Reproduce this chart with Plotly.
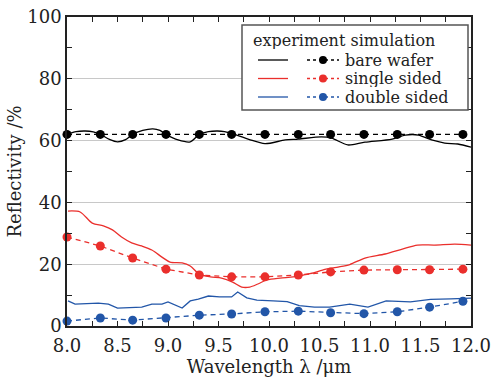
import plotly.graph_objects as go

# ---------------- data ----------------
# experiment (solid lines)
bare_exp_x = [8.01, 8.09, 8.18, 8.26, 8.33, 8.42, 8.50, 8.58, 8.65, 8.75, 8.85, 8.92, 8.98, 9.10, 9.22, 9.31,
              9.40, 9.49, 9.56, 9.63, 9.80, 9.96, 10.16, 10.29, 10.52, 10.62, 10.78, 10.95, 11.22, 11.35,
              11.48, 11.61, 11.74, 11.87, 12.0]
bare_exp_y = [62.1, 62.9, 63.1, 62.8, 62.0, 60.4, 59.6, 60.3, 62.0, 63.3, 63.8, 63.3, 62.0, 60.2, 59.6, 62.0,
              62.9, 63.1, 62.9, 62.3, 60.4, 59.0, 60.2, 60.5, 61.2, 60.8, 58.6, 59.5, 60.5, 61.8,
              61.8, 60.2, 59.2, 58.9, 57.9]

single_exp_x = [8.01, 8.13, 8.25, 8.36, 8.45, 8.54, 8.64, 8.74, 8.84, 8.94, 9.02, 9.14, 9.22, 9.31, 9.42,
                9.53, 9.64, 9.73, 9.81, 9.89, 9.98, 10.11, 10.24, 10.34, 10.44, 10.53, 10.67, 10.80,
                10.95, 11.15, 11.32, 11.47, 11.64, 11.84, 12.0]
single_exp_y = [37.2, 36.9, 33.3, 32.4, 31.1, 28.8, 26.9, 25.9, 24.6, 22.3, 20.7, 20.4, 19.4, 16.8, 15.9,
                15.5, 14.2, 12.6, 12.6, 13.6, 14.9, 15.5, 15.9, 16.5, 17.2, 18.1, 19.0, 19.9,
                22.0, 23.3, 24.9, 26.2, 26.2, 26.5, 26.2]

double_exp_x = [8.01, 8.08, 8.31, 8.41, 8.50, 8.64, 8.74, 8.84, 8.94, 9.00, 9.14, 9.22, 9.30, 9.40, 9.51,
                9.63, 9.69, 9.78, 9.88, 10.04, 10.18, 10.30, 10.45, 10.60, 10.80, 10.98, 11.16, 11.40,
                11.60, 11.80, 12.0]
double_exp_y = [8.1, 7.1, 7.4, 7.1, 5.8, 6.1, 6.1, 7.1, 7.1, 7.8, 5.8, 8.1, 8.7, 9.7, 9.4,
                9.4, 11.0, 9.1, 8.4, 8.1, 7.9, 6.6, 6.1, 6.1, 7.1, 6.1, 8.1, 7.8,
                8.6, 8.8, 9.0]

# simulation (dashed lines with markers)
sim_x = [8.0, 8.33, 8.65, 8.98, 9.31, 9.63, 9.96, 10.29, 10.61, 10.94, 11.27, 11.59, 11.92]
bare_sim_y = [62.0] * 13
single_sim_y = [28.8, 25.9, 22.0, 18.4, 16.5, 15.9, 15.9, 16.5, 17.5, 18.1, 18.2, 18.2, 18.4]
double_sim_y = [1.6, 2.6, 1.9, 2.6, 3.5, 3.9, 4.6, 4.8, 4.3, 4.0, 4.6, 6.1, 8.0]

series_names = ["bare wafer", "single sided", "double sided"]
legend_header = "experiment simulation"
x_title = "Wavelength λ /μm"
y_title = "Reflectivity /%"

# ---------------- style ----------------
BLACK = "#000000"
RED = "#ea2f2c"
BLUE = "#2256a8"
FONT = "DejaVu Serif"
TXT = "#222222"
W, H = 504, 380
L, R, T, B = 67, 33, 17, 54

fig = go.Figure()

exp_sets = [(bare_exp_x, bare_exp_y, BLACK, "spline"),
            (single_exp_x, single_exp_y, RED, "spline"),
            (double_exp_x, double_exp_y, BLUE, "linear")]
for (xs, ys, c, shp), name in zip(exp_sets, series_names):
    fig.add_trace(go.Scatter(x=xs, y=ys, mode="lines", name=name + " (experiment)",
                             line=dict(color=c, width=1.3, shape=shp, smoothing=0.8),
                             showlegend=False, cliponaxis=True))

sim_sets = [(bare_sim_y, BLACK), (single_sim_y, RED), (double_sim_y, BLUE)]
for (ys, c), name in zip(sim_sets, series_names):
    fig.add_trace(go.Scatter(x=sim_x, y=ys, mode="lines+markers", name=name + " (simulation)",
                             line=dict(color=c, width=1.3, dash="5px,4px"),
                             marker=dict(color=c, size=9, symbol="circle"),
                             showlegend=False, cliponaxis=False))

axis_common = dict(
    showline=True, linecolor=TXT, linewidth=1.5, mirror="allticks",
    ticks="inside", ticklen=5, tickwidth=1, tickcolor=TXT,
    tickfont=dict(family=FONT, size=18, color=TXT),
    zeroline=False, automargin=False,
)

fig.update_xaxes(range=[8.0, 12.0], dtick=0.5, tick0=8.0, tickformat=".1f",
                 showgrid=False, ticklabelstandoff=3,
                 minor=dict(dtick=0.25, ticks="inside", ticklen=5, tickcolor=TXT, showgrid=False),
                 title=dict(text=x_title, font=dict(family=FONT, size=18, color=TXT), standoff=2),
                 **axis_common)
fig.update_yaxes(range=[0, 100], dtick=20, tick0=0,
                 showgrid=True, gridcolor="#c8c8c8", gridwidth=1,
                 minor=dict(dtick=10, ticks="inside", ticklen=5, tickcolor=TXT, showgrid=False),
                 title=dict(text=y_title, font=dict(family=FONT, size=18, color=TXT), standoff=1),
                 **axis_common)

# ---------------- hand-drawn legend (paper coordinates) ----------------
pw, ph = W - L - R, H - T - B


def px(xp):
    return (xp - L) / pw


def py(yp):
    return 1 - (yp - T) / ph


LEG_FS = 16
shapes = [dict(type="rect", xref="paper", yref="paper",
               x0=px(242), x1=px(468), y0=py(110), y1=py(25),
               line=dict(color="#555555", width=1.5), fillcolor="white", layer="above")]
annotations = [dict(text=legend_header, xref="paper", yref="paper", x=px(252), y=py(40),
                    xanchor="left", yanchor="middle", showarrow=False, borderpad=0, height=17,
                    font=dict(family=FONT, size=LEG_FS, color=TXT))]
row_y = [60, 78.5, 97]
for (c, name, ry) in zip([BLACK, RED, BLUE], series_names, row_y):
    shapes.append(dict(type="line", xref="paper", yref="paper", x0=px(258), x1=px(288),
                       y0=py(ry), y1=py(ry), line=dict(color=c, width=1.3), layer="above"))
    shapes.append(dict(type="line", xref="paper", yref="paper", x0=px(307), x1=px(339),
                       y0=py(ry), y1=py(ry), line=dict(color=c, width=1.3, dash="3px,3px"), layer="above"))
    shapes.append(dict(type="circle", xref="paper", yref="paper", xsizemode="pixel", ysizemode="pixel",
                       xanchor=px(323), yanchor=py(ry), x0=-4, x1=4, y0=-4, y1=4,
                       fillcolor=c, line=dict(color=c, width=0), layer="above"))
    annotations.append(dict(text=name, xref="paper", yref="paper", x=px(344), y=py(ry),
                            xanchor="left", yanchor="middle", showarrow=False, borderpad=0, height=17,
                            font=dict(family=FONT, size=LEG_FS, color=TXT)))

fig.update_layout(
    width=W, height=H,
    margin=dict(l=L, r=R, t=T, b=B, autoexpand=False),
    plot_bgcolor="white", paper_bgcolor="white",
    showlegend=False,
    shapes=shapes, annotations=annotations,
    font=dict(family=FONT, size=18, color=TXT),
)

fig.write_html("out.html", config={"displayModeBar": False})
